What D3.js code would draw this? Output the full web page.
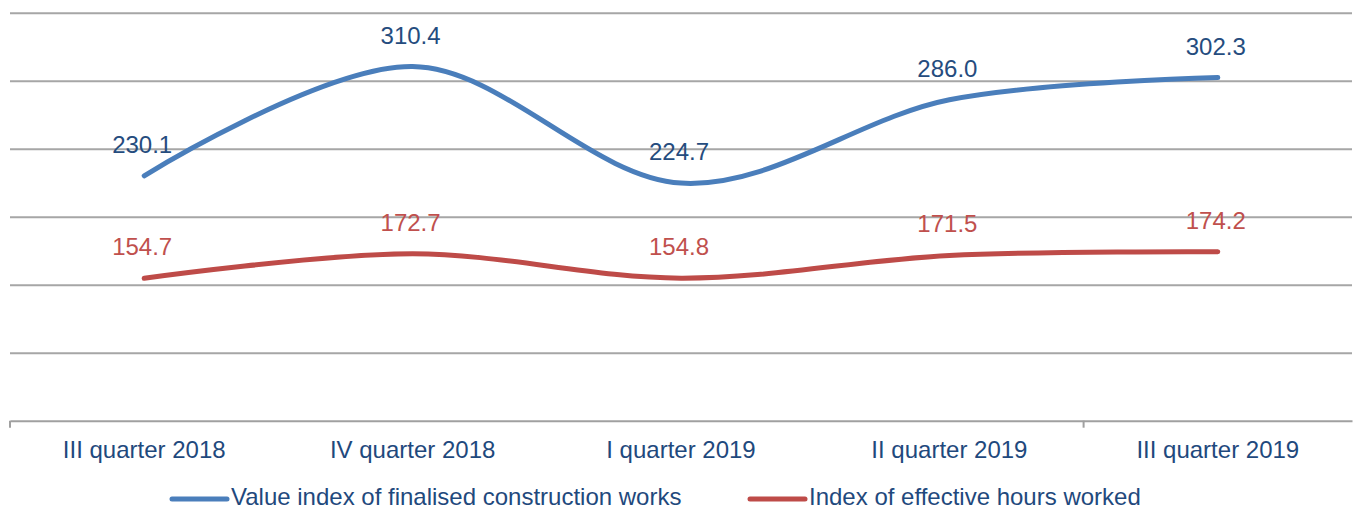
<!DOCTYPE html>
<html>
<head>
<meta charset="utf-8">
<script src="https://cdn.jsdelivr.net/npm/d3@7"></script>
<style>
  html, body { margin: 0; padding: 0; background: #fff; }
  svg { display: block; font-family: "Liberation Sans", Arial, sans-serif; }
</style>
</head>
<body>
<div id="graph"></div>
<script>
const categories = ['III quarter 2018', 'IV quarter 2018', 'I quarter 2019', 'II quarter 2019', 'III quarter 2019']
const valueIndex = [230.1, 310.4, 224.7, 286.0, 302.3]
const hoursIndex = [154.7, 172.7, 154.8, 171.5, 174.2]
const yTicks = [50, 100, 150, 200, 250, 300, 350]
const seriesNames = ['Value index of finalised construction works', 'Index of effective hours worked']

const width = 1354, height = 509
const plotLeft = 10, plotRight = 1352, plotTop = 12.7, plotBottom = 420.7
const lineColors = ['#4a7ebb', '#be4b48']
const labelColors = ['#254c7e', '#c0504d']
const textColor = '#1f497d'
const fontSize = '24px'

const svg = d3.select('#graph').append('svg')
  .attr('width', width)
  .attr('height', height)

const xScale = d3.scaleBand().domain(categories).range([plotLeft, plotRight])
const yScale = d3.scaleLinear().domain([50, 350]).range([plotBottom, plotTop])

// horizontal gridlines
svg.append('g')
  .attr('transform', `translate(${plotLeft},0)`)
  .call(d3.axisLeft(yScale).tickValues(yTicks.slice(1)).tickSize(-(plotRight - plotLeft)).tickFormat(''))
  .call(g => g.select('.domain').remove())
  .call(g => g.selectAll('line').attr('stroke', '#a6a6a6').attr('stroke-width', 2))

// x axis
const xAxis = svg.append('g')
  .attr('transform', `translate(0,${plotBottom})`)
  .call(d3.axisBottom(xScale).tickSize(0).tickSizeOuter(0))
xAxis.select('.domain').attr('stroke', '#a0a0a0').attr('stroke-width', 2)
xAxis.selectAll('text')
  .attr('y', 37)
  .attr('dy', 0)
  .attr('fill', textColor)
  .style('font-size', fontSize)
  .style('font-family', '"Liberation Sans", Arial, sans-serif')
xAxis.selectAll('.boundary').data([categories[0], categories[4]]).enter()
  .append('line')
  .attr('x1', d => xScale(d)).attr('x2', d => xScale(d))
  .attr('y1', 0).attr('y2', 7)
  .attr('stroke', '#a0a0a0').attr('stroke-width', 2)

const line = d3.line()
  .x((d, i) => xScale(categories[i]) + xScale.bandwidth() / 2)
  .y(d => yScale(d))
  .curve(d3.curveCatmullRom.alpha(0))

const series = [valueIndex, hoursIndex]

series.forEach((vals, s) => {
  svg.append('path')
    .datum(vals)
    .attr('d', line)
    .attr('fill', 'none')
    .attr('stroke', lineColors[s])
    .attr('stroke-width', 5)
    .attr('stroke-linecap', 'round')

  svg.append('g').selectAll('text')
    .data(vals)
    .enter()
    .append('text')
    .attr('x', (d, i) => xScale(categories[i]) + xScale.bandwidth() / 2 - 2)
    .attr('y', d => yScale(d) - 23)
    .attr('text-anchor', 'middle')
    .attr('fill', labelColors[s])
    .style('font-size', fontSize)
    .text(d => d.toFixed(1))
})

// legend
const legendX = [172, 750]
const legend = svg.append('g').attr('transform', 'translate(0,499)')
seriesNames.forEach((name, s) => {
  legend.append('line')
    .attr('x1', legendX[s]).attr('x2', legendX[s] + 55)
    .attr('y1', 0).attr('y2', 0)
    .attr('stroke', lineColors[s])
    .attr('stroke-width', 5)
    .attr('stroke-linecap', 'round')
  legend.append('text')
    .attr('x', legendX[s] + 59)
    .attr('y', 6)
    .attr('fill', textColor)
    .style('font-size', fontSize)
    .text(name)
})
</script>
</body>
</html>
